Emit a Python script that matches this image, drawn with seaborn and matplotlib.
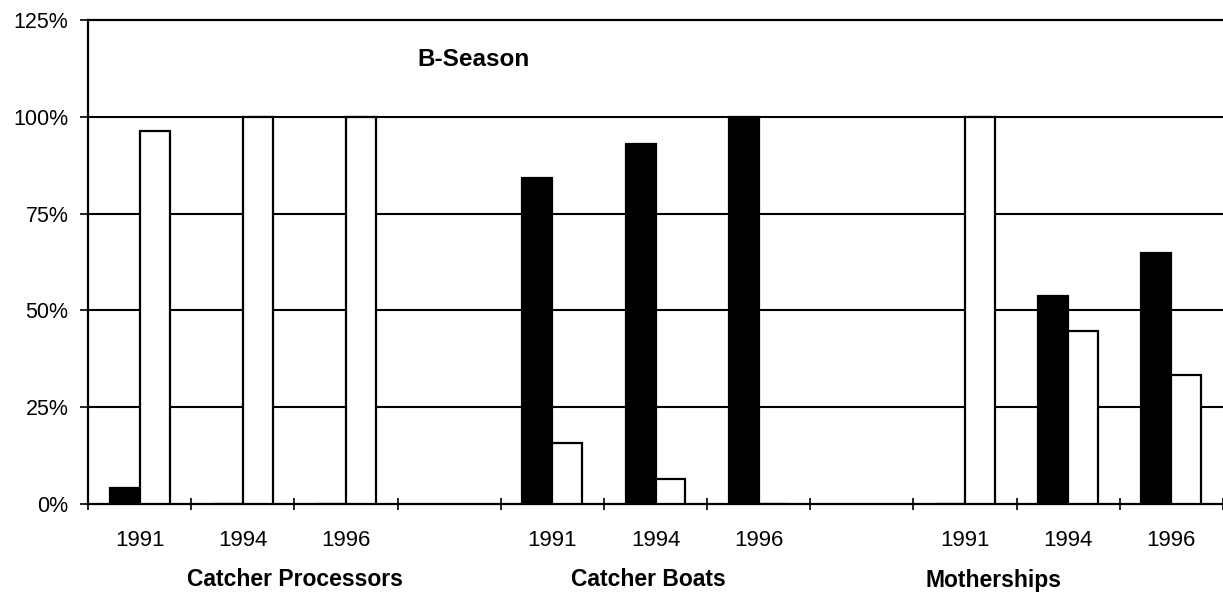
import matplotlib
matplotlib.use("Agg")
import matplotlib.pyplot as plt
import matplotlib.transforms as mtransforms
import seaborn as sns
import pandas as pd
import numpy as np

# Slots along the x axis (blank slots separate the three sectors)
slots = ["CP 1991", "CP 1994", "CP 1996", "gap 1",
         "CB 1991", "CB 1994", "CB 1996", "gap 2",
         "MS 1991", "MS 1994", "MS 1996"]
slot_labels = ["1991", "1994", "1996", "",
               "1991", "1994", "1996", "",
               "1991", "1994", "1996"]
data_slots = ["CP 1991", "CP 1994", "CP 1996",
              "CB 1991", "CB 1994", "CB 1996",
              "MS 1991", "MS 1994", "MS 1996"]

# Percent values for the two series (dark and light bars)
dark_values = [4.2, 0, 0, 84.3, 93.1, 100, 0, 53.7, 64.7]
light_values = [96.4, 100, 100, 15.7, 6.4, 0, 100, 44.7, 33.2]
series_names = ["Series 1", "Series 2"]

sectors = ["Catcher Processors", "Catcher Boats", "Motherships"]
sector_x = [1.51, 4.93, 8.28]
title_text = "B-Season"

df = pd.DataFrame({
    "slot": data_slots * 2,
    "value": dark_values + light_values,
    "series": [series_names[0]] * len(data_slots) + [series_names[1]] * len(data_slots),
})

sns.set_theme(style="white")
plt.rcParams["font.family"] = ["Liberation Sans", "DejaVu Sans"]

W, H = 1223, 600
fig = plt.figure(figsize=(W / 100, H / 100), dpi=100)
left_px, right_px, top_px, bottom_px = 88, 1223, 20, 504
ax = fig.add_axes([left_px / W, (H - bottom_px) / H,
                   (right_px - left_px) / W, (bottom_px - top_px) / H])

sns.barplot(data=df, x="slot", y="value", hue="series", order=slots,
            hue_order=series_names, palette=["black", "white"],
            edgecolor="black", linewidth=1.6, width=0.58,
            legend=False, ax=ax, zorder=3)

slot_w = 103.5
ax.set_xlim(-0.5, -0.5 + (right_px - left_px) / slot_w)
ax.set_ylim(0, 125)

# Horizontal grid at every 25 %
ax.set_yticks([0, 25, 50, 75, 100, 125])
ax.set_yticklabels(["0%", "25%", "50%", "75%", "100%", "125%"], fontsize=15.5)
for v in [25, 50, 75, 100]:
    ax.axhline(v, color="black", lw=1.5, zorder=1)

ax.set_xticks(range(len(slots)))
ax.set_xticklabels(slot_labels, fontsize=16)
ax.set_xticks(np.arange(-0.5, len(slots), 1.0), minor=True)
ax.tick_params(axis="x", which="major", length=0, pad=19, colors="black")
ax.tick_params(axis="x", which="minor", length=8, width=1.2, direction="inout",
               color="black", bottom=True)
ax.tick_params(axis="y", length=6, width=1.2, pad=8, colors="black", left=True)

ax.set_xlabel("")
ax.set_ylabel("")
for side in ["left", "bottom", "top"]:
    ax.spines[side].set_visible(True)
    ax.spines[side].set_color("black")
    ax.spines[side].set_linewidth(1.6)
ax.spines["right"].set_visible(False)

ax.text(3.24, 114.8, title_text, fontsize=17.5, fontweight="bold",
        ha="center", va="center", color="black")

trans = mtransforms.blended_transform_factory(ax.transData, fig.transFigure)
for name, xpos in zip(sectors, sector_x):
    ax.text(xpos, (H - 580) / H, name, transform=trans, fontsize=16.5,
            fontweight="bold", ha="center", va="center", color="black")

fig.savefig("out.png", dpi=100, facecolor="white")
